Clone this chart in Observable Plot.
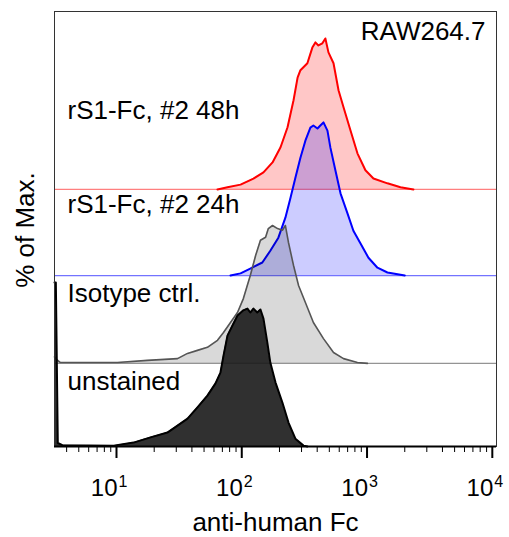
<!DOCTYPE html>
<html><head><meta charset="utf-8">
<script src="https://cdn.jsdelivr.net/npm/d3@7"></script>
<script src="https://cdn.jsdelivr.net/npm/@observablehq/plot@0.6"></script>
<style>body{margin:0;background:#fff}</style>
</head><body><div id="chart"></div>
<script>
// ---- data (x = fluorescence, y = height in "% of Max." chart units) ----
const seriesNames = ["unstained", "Isotype ctrl.", "rS1-Fc, #2 24h", "rS1-Fc, #2 48h"];
const seriesOffsets = [0, 19.1, 39.3, 59.1];
const labelRise = [15.0, 16.0, 16.2, 18.2];

const unstainedX = [3.2, 3.28, 3.4, 3.7, 9.5, 13.7, 18.7, 25.5, 30.7, 36.9, 44.3, 53.2, 61.7, 67.6, 71.5, 76.9, 84.3, 92.5, 103, 111, 117, 124, 133, 141, 149, 160, 169, 186, 211, 236, 268, 311, 334];
const unstainedY = [37.7, 37.7, 0.8, 0.3, 0.2, 0.9, 2.1, 3.2, 4.8, 6.4, 9.0, 11.7, 14.5, 17.0, 20.9, 25.5, 27.8, 30.1, 31.3, 31.7, 30.8, 31.7, 30.8, 31.5, 29.4, 23.9, 19.3, 14.7, 10.1, 5.5, 1.8, 0.2, 0];

const isotypeX = [3.2, 3.32, 3.57, 10.2, 17.7, 30.7, 36.9, 44.3, 53.2, 64.0, 71.5, 81.3, 92.5, 103, 117, 129, 141, 155, 163, 176, 193, 211, 223, 236, 259, 284, 322, 373, 449, 540, 649, 838, 1007];
const isotypeY = [1.5, 0.9, 0.2, 0.2, 0.7, 1.1, 2.3, 3.0, 3.7, 5.3, 7.1, 9.4, 11.7, 14.9, 20.2, 24.8, 28.3, 29.0, 31.0, 31.7, 31.0, 30.6, 31.7, 27.8, 22.5, 17.9, 14.0, 9.4, 5.7, 2.5, 1.1, 0.2, 0];

const h24X = [81.3, 97.8, 117, 146, 169, 196, 223, 245, 268, 294, 322, 353, 373, 402, 424, 449, 483, 510, 560, 614, 698, 778, 885, 1026, 1211, 1455, 1849, 2000];
const h24Y = [0, 0.5, 1.6, 3.0, 5.7, 8.7, 13.3, 17.9, 22.5, 27.1, 31.0, 34.0, 34.5, 33.8, 34.5, 35.2, 33.3, 29.4, 24.1, 18.9, 14.3, 10.3, 7.4, 4.1, 1.8, 0.7, 0.2, 0];

const h48X = [64, 76.9, 97.8, 124, 149, 176, 204, 232, 259, 279, 294, 334, 366, 387, 409, 440, 465, 492, 540, 592, 649, 737, 838, 971, 1125, 1455, 1849, 2346];
const h48Y = [0, 0.5, 1.1, 2.5, 3.9, 6.2, 9.7, 14.3, 20.5, 25.7, 27.4, 29.0, 32.6, 33.8, 33.1, 33.6, 34.7, 31.5, 29.0, 22.8, 18.9, 13.6, 8.3, 4.4, 2.5, 1.4, 0.5, 0];

const majorTicks = [10, 100, 1000, 10000];
const minorTicks = [4,5,6,7,8,9, 20,30,40,50,60,70,80,90, 200,300,400,500,600,700,800,900, 2000,3000,4000,5000,6000,7000,8000,9000];
const xLabel = "anti-human Fc";
const yLabel = "% of Max.";
const cellLabel = "RAW264.7";

// ---- build tables ----
const xs = [unstainedX, isotypeX, h24X, h48X];
const ys = [unstainedY, isotypeY, h24Y, h48Y];
const tables = seriesNames.map((name, i) => xs[i].map((x, j) => ({series: name, x, base: seriesOffsets[i], top: seriesOffsets[i] + ys[i][j]})));

const styles = [
  {fill: "#1a1a1a", fillOpacity: 0.9, stroke: "#000", strokeWidth: 2, baseStroke: "#000", baseOpacity: 1},
  {fill: "#000", fillOpacity: 0.15, stroke: "#555", strokeWidth: 1.6, baseStroke: "#666", baseOpacity: 0.7},
  {fill: "#0000ff", fillOpacity: 0.2, stroke: "#0000ff", strokeWidth: 2, baseStroke: "#0000ff", baseOpacity: 0.55},
  {fill: "#ff0000", fillOpacity: 0.22, stroke: "#ff0000", strokeWidth: 2, baseStroke: "#ff0000", baseOpacity: 0.5}
];

const marks = [];
for (const i of [3, 2, 1, 0]) {
  const s = styles[i];
  if (i > 0) marks.push(Plot.ruleY([seriesOffsets[i]], {stroke: s.baseStroke, strokeOpacity: s.baseOpacity, strokeWidth: 1.2}));
  marks.push(Plot.areaY(tables[i], {x: "x", y1: "base", y2: "top", fill: s.fill, fillOpacity: s.fillOpacity}));
  marks.push(Plot.lineY(tables[i], {x: "x", y: "top", stroke: s.stroke, strokeWidth: s.strokeWidth, strokeLinejoin: "round"}));
}

const labelRows = seriesNames.map((name, i) => ({name, y: seriesOffsets[i] + labelRise[i]}));

marks.push(
  Plot.frame({stroke: "#333", strokeWidth: 1}),
  Plot.ruleY([0], {stroke: "#000", strokeWidth: 2}),
  Plot.axisX(minorTicks, {tickSize: 6, tickFormat: () => "", label: null, stroke: "#000", strokeWidth: 1}),
  Plot.axisX(majorTicks, {tickSize: 12, tickFormat: () => "", label: null, stroke: "#000", strokeWidth: 2}),
  Plot.text(majorTicks, {x: d => d, text: () => "10", frameAnchor: "bottom", textAnchor: "end", lineAnchor: "top", dx: 1, dy: 32, fontSize: 24, fill: "#000"}),
  Plot.text(majorTicks, {x: d => d, text: d => String(Math.round(Math.log10(d))), frameAnchor: "bottom", textAnchor: "start", lineAnchor: "top", dx: 2, dy: 29.5, fontSize: 16, fill: "#000"}),
  Plot.text([xLabel], {text: d => d, frameAnchor: "bottom", lineAnchor: "top", dy: 66.5, fontSize: 26, fill: "#000"}),
  Plot.text([yLabel], {text: d => d, frameAnchor: "left", textAnchor: "middle", rotate: -90, dx: -29, dy: 1, fontSize: 26, fill: "#000"}),
  Plot.text([cellLabel], {text: d => d, frameAnchor: "top-right", textAnchor: "end", lineAnchor: "top", dx: -11, dy: 10.5, fontSize: 26, fill: "#000"}),
  Plot.text(labelRows, {y: "y", text: "name", frameAnchor: "left", textAnchor: "start", dx: 13, fontSize: 26, fill: "#000"})
);

const chart = Plot.plot({
  width: 509,
  height: 537,
  marginLeft: 54,
  marginRight: 13,
  marginTop: 11,
  marginBottom: 91,
  style: {fontFamily: "Arial, 'Liberation Sans', sans-serif", background: "#fff", color: "#000"},
  x: {type: "log", domain: [3.2, 10800], axis: null},
  y: {domain: [0, 100], axis: null},
  marks
});
document.getElementById("chart").appendChild(chart);
</script>
</body></html>
